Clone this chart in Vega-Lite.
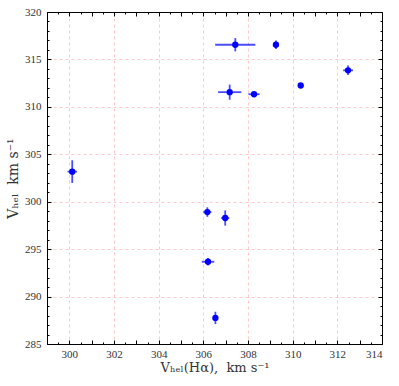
{
  "$schema": "https://vega.github.io/schema/vega-lite/v6.json",
  "autosize": "none",
  "width": 335,
  "height": 332,
  "padding": {"left": 47, "top": 12, "right": 17, "bottom": 42},
  "background": "white",
  "config": {
    "view": {"stroke": "black", "strokeWidth": 1},
    "font": "Liberation Serif",
    "axis": {"labelFont": "Liberation Serif", "titleFont": "DejaVu Serif", "labelColor": "#333", "titleColor": "#333", "titleFontWeight": "normal"}
  },
  "data": {"values": [
    {"x": 307.43, "y": 316.55, "xmin": 306.53, "xmax": 308.33, "ymin": 315.85, "ymax": 317.25},
    {"x": 309.25, "y": 316.55, "xmin": 309.13, "xmax": 309.37, "ymin": 316.1, "ymax": 317.0},
    {"x": 312.48, "y": 313.85, "xmin": 312.26, "xmax": 312.7, "ymin": 313.35, "ymax": 314.35},
    {"x": 310.36, "y": 312.25, "xmin": 310.26, "xmax": 310.46, "ymin": 312.0, "ymax": 312.5},
    {"x": 307.18, "y": 311.55, "xmin": 306.66, "xmax": 307.7, "ymin": 310.75, "ymax": 312.35},
    {"x": 308.27, "y": 311.33, "xmin": 308.02, "xmax": 308.52, "ymin": 311.13, "ymax": 311.53},
    {"x": 300.13, "y": 303.17, "xmin": 299.92, "xmax": 300.34, "ymin": 301.97, "ymax": 304.37},
    {"x": 306.18, "y": 298.91, "xmin": 306.0, "xmax": 306.36, "ymin": 298.41, "ymax": 299.41},
    {"x": 306.98, "y": 298.28, "xmin": 306.8, "xmax": 307.16, "ymin": 297.48, "ymax": 299.08},
    {"x": 306.21, "y": 293.67, "xmin": 305.93, "xmax": 306.49, "ymin": 293.27, "ymax": 294.07},
    {"x": 306.54, "y": 287.75, "xmin": 306.44, "xmax": 306.64, "ymin": 287.1, "ymax": 288.4}
  ]},
  "layer": [
    {
      "mark": {"type": "rule", "color": "#0000ff", "strokeWidth": 1.8, "opacity": 0.7},
      "encoding": {
        "x": {"field": "xmin", "type": "quantitative", "scale": {"domain": [299, 314], "nice": false, "zero": false},
          "axis": {"orient": "bottom", "values": [299, 299.5, 300, 300.5, 301, 301.5, 302, 302.5, 303, 303.5, 304, 304.5, 305, 305.5, 306, 306.5, 307, 307.5, 308, 308.5, 309, 309.5, 310, 310.5, 311, 311.5, 312, 312.5, 313, 313.5, 314],
            "labelExpr": "datum.value % 2 == 0 ? datum.value : ''",
            "tickSize": -4,
            "tickDash": {"condition": {"test": "datum.value % 1 == 0", "value": [10, 0]}, "value": [2, 10]},
            "tickColor": "black", "domainColor": "black", "labelFontSize": 11, "labelPadding": 8,
            "grid": true, "gridColor": "#ffaaaa", "gridDash": [3, 3], "gridWidth": 0.8,
            "gridOpacity": {"condition": {"test": "datum.value % 2 == 0", "value": 0.8}, "value": 0},
            "title": "Vₕₑₗ(Hα),\u00a0 km\u00a0s⁻¹", "titleFontSize": 13, "titlePadding": 2}},
        "x2": {"field": "xmax"},
        "y": {"field": "y", "type": "quantitative", "scale": {"domain": [285, 320], "nice": false, "zero": false},
          "axis": {"orient": "left", "values": [285, 286, 287, 288, 289, 290, 291, 292, 293, 294, 295, 296, 297, 298, 299, 300, 301, 302, 303, 304, 305, 306, 307, 308, 309, 310, 311, 312, 313, 314, 315, 316, 317, 318, 319, 320],
            "labelExpr": "datum.value % 5 == 0 ? datum.value : ''",
            "tickSize": -4,
            "tickDash": {"condition": {"test": "datum.value % 5 == 0", "value": [10, 0]}, "value": [2, 10]},
            "tickColor": "black", "domainColor": "black", "labelFontSize": 11, "labelPadding": 10,
            "grid": true, "gridColor": "#ffaaaa", "gridDash": [3, 3], "gridWidth": 0.8,
            "gridOpacity": {"condition": {"test": "datum.value % 5 == 0", "value": 0.8}, "value": 0},
            "title": "Vₕₑₗ\u00a0\u00a0km\u00a0s⁻¹", "titleFontSize": 14, "titlePadding": 4}}
      }
    },
    {
      "mark": {"type": "rule", "color": "#0000ff", "strokeWidth": 1.8, "opacity": 0.7},
      "encoding": {
        "x": {"field": "x", "type": "quantitative",
          "axis": {"orient": "top", "values": [299, 299.5, 300, 300.5, 301, 301.5, 302, 302.5, 303, 303.5, 304, 304.5, 305, 305.5, 306, 306.5, 307, 307.5, 308, 308.5, 309, 309.5, 310, 310.5, 311, 311.5, 312, 312.5, 313, 313.5, 314],
            "labels": false, "grid": false, "title": null, "tickColor": "black", "domainColor": "black",
            "tickSize": -4,
            "tickDash": {"condition": {"test": "datum.value % 1 == 0", "value": [10, 0]}, "value": [2, 10]}}},
        "y": {"field": "ymin", "type": "quantitative",
          "axis": {"orient": "right", "values": [285, 286, 287, 288, 289, 290, 291, 292, 293, 294, 295, 296, 297, 298, 299, 300, 301, 302, 303, 304, 305, 306, 307, 308, 309, 310, 311, 312, 313, 314, 315, 316, 317, 318, 319, 320],
            "labels": false, "grid": false, "title": null, "tickColor": "black", "domainColor": "black",
            "tickSize": -4,
            "tickDash": {"condition": {"test": "datum.value % 5 == 0", "value": [10, 0]}, "value": [2, 10]}}},
        "y2": {"field": "ymax"}
      }
    },
    {
      "mark": {"type": "point", "filled": true, "color": "#0000ff", "size": 40, "opacity": 1},
      "encoding": {
        "x": {"field": "x", "type": "quantitative", "axis": null},
        "y": {"field": "y", "type": "quantitative", "axis": null}
      }
    }
  ]
}
